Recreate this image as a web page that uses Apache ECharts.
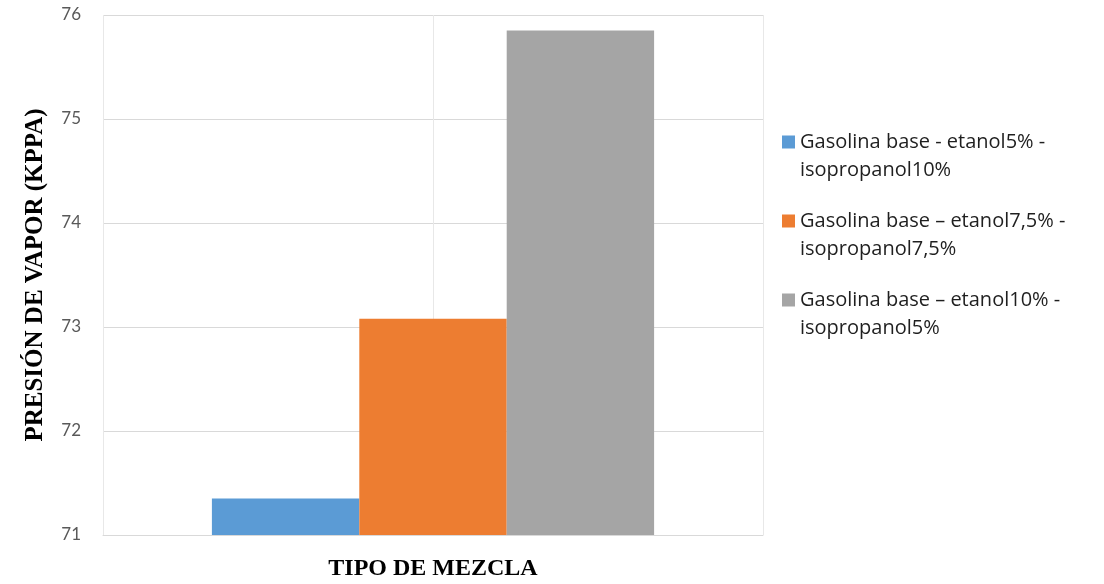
<!DOCTYPE html>
<html>
<head>
<meta charset="utf-8">
<script src="https://cdn.jsdelivr.net/npm/echarts@6/dist/echarts.min.js"></script>
<style>
  html, body { margin: 0; padding: 0; background: #fff; }
  #chart { width: 1104px; height: 584px; }
</style>
</head>
<body>
<div id="chart"></div>
<script>
// Vapour pressure of three gasoline / ethanol / isopropanol blends
const categories = ['Mezcla'];
const seriesNames = [
  'Gasolina base - etanol5% -\nisopropanol10%',
  'Gasolina base \u2013 etanol7,5% -\nisopropanol7,5%',
  'Gasolina base \u2013 etanol10% -\nisopropanol5%'
];
const blendA = [71.35];
const blendB = [73.08];
const blendC = [75.85];
const yTicks = { min: 71, max: 76, step: 1 };
const colors = ['#5B9BD5', '#ED7D31', '#A5A5A5'];

const valuesList = [blendA, blendB, blendC];

const chart = echarts.init(document.getElementById('chart'), null, { renderer: 'canvas' });

chart.setOption({
  animation: false,
  color: colors,
  grid: {
    left: 103, right: 341, top: 15, bottom: 49,
    containLabel: false,
    outerBoundsMode: 'none'
  },
  legend: {
    orient: 'vertical',
    left: 782,
    top: 100,
    padding: 0,
    itemWidth: 13,
    itemHeight: 13,
    itemGap: -5,
    icon: 'rect',
    data: seriesNames,
    // a blank leading line keeps the swatch level with the first text line
    formatter: (name) => '\n' + name,
    textStyle: {
      fontFamily: 'Open Sans',
      fontSize: 20,
      color: '#1f1f1f',
      lineHeight: 28
    }
  },
  xAxis: [
    {
      type: 'category',
      data: categories,
      name: 'TIPO DE MEZCLA',
      nameLocation: 'middle',
      nameGap: 22,
      nameTextStyle: {
        fontFamily: 'Liberation Serif',
        fontWeight: 'bold',
        fontSize: 24,
        color: '#000'
      },
      axisLine: { show: true, lineStyle: { color: '#d9d9d9', width: 1 } },
      axisTick: { show: false },
      axisLabel: { show: false },
      splitLine: { show: false }
    },
    {
      // helper axis providing the vertical grid lines (edges and centre)
      type: 'value',
      position: 'bottom',
      min: 0,
      max: 2,
      interval: 1,
      axisLine: { show: false },
      axisTick: { show: false },
      axisLabel: { show: false },
      splitLine: { show: true, lineStyle: { color: '#e8e8e8', width: 1 } }
    }
  ],
  yAxis: {
    type: 'value',
    min: yTicks.min,
    max: yTicks.max,
    interval: yTicks.step,
    name: 'PRESIÓN DE VAPOR (KPPA)',
    nameLocation: 'middle',
    nameRotate: 90,
    nameGap: 55,
    nameTextStyle: {
      fontFamily: 'Liberation Serif',
      fontWeight: 'bold',
      fontSize: 25,
      color: '#000'
    },
    axisLine: { show: false },
    axisTick: { show: false },
    axisLabel: {
      margin: 22,
      fontFamily: 'Lato',
      fontSize: 17,
      color: '#595959'
    },
    splitLine: { show: true, lineStyle: { color: '#d9d9d9', width: 1 } }
  },
  series: seriesNames.map((name, i) => ({
    name: name,
    type: 'bar',
    xAxisIndex: 0,
    data: valuesList[i],
    barGap: '0%',
    barCategoryGap: '33%',
    itemStyle: { color: colors[i] }
  }))
});
</script>
</body>
</html>
